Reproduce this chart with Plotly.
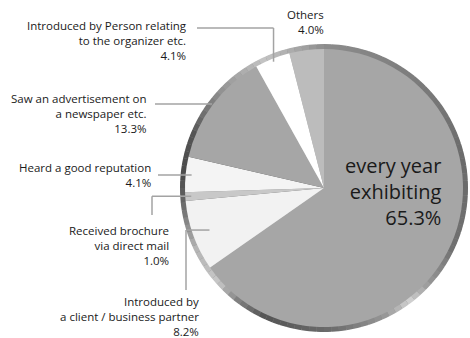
import math
import plotly.graph_objects as go

# slices, clockwise from 12 o'clock
labels = [
    "every year exhibiting",
    "Introduced by a client / business partner",
    "Received brochure via direct mail",
    "Heard a good reputation",
    "Saw an advertisement on a newspaper etc.",
    "Introduced by Person relating to the organizer etc.",
    "Others",
]
shares = [65.3, 8.2, 1.0, 4.1, 13.3, 4.1, 4.0]
slice_colors = ["#a6a6a6", "#f2f2f2", "#c8c8c8", "#f4f4f4", "#a6a6a6", "#ffffff", "#bcbcbc"]

# text shown next to the pie (line breaks as in the original)
label_text = [
    "every year<br>exhibiting<br>65.3%",
    "Introduced by<br>a client / business partner<br>8.2%",
    "Received brochure<br>via direct mail<br>1.0%",
    "Heard a good reputation<br>4.1%",
    "Saw an advertisement on<br>a newspaper etc.<br>13.3%",
    "Introduced by Person relating<br>to the organizer etc.<br>4.1%",
    "Others<br>4.0%",
]

# metallic rim: grey level stops (angle clockwise from top, grey 0-255)
rim_stops = [(0, 140), (40, 124), (80, 106), (115, 112), (132, 150), (143, 210),
             (155, 150), (175, 110), (205, 84), (218, 130), (228, 200), (245, 180),
             (262, 110), (275, 74), (292, 84), (315, 150), (335, 196), (352, 160), (360, 140)]
N_RIM = 120

W, H = 470, 338
CX, CY = 324, 188      # pie centre in pixels
R_OUT, R_IN = 144, 139


def px(x):
    return x / W


def py(y):
    return 1 - y / H


def dom(r):
    return dict(x=[px(CX - r), px(CX + r)], y=[py(CY + r), py(CY - r)])


def rim_grey(a):
    for (a0, g0), (a1, g1) in zip(rim_stops[:-1], rim_stops[1:]):
        if a0 <= a <= a1:
            g = round(g0 + (g1 - g0) * (a - a0) / (a1 - a0))
            return f"rgb({g},{g},{g})"
    return "rgb(140,140,140)"


rim_colors = [rim_grey((k + 0.5) * 360 / N_RIM) for k in range(N_RIM)]

fig = go.Figure()
# solid backing so the rim segments show no seams
fig.add_trace(go.Pie(values=[1], marker=dict(colors=["#8c8c8c"], line=dict(width=0)),
                     textinfo="none", hoverinfo="skip", domain=dom(R_OUT - 0.5), showlegend=False))
fig.add_trace(go.Pie(values=[1] * N_RIM, marker=dict(colors=rim_colors, line=dict(width=0)),
                     sort=False, direction="clockwise", textinfo="none", hoverinfo="skip",
                     domain=dom(R_OUT), showlegend=False))
fig.add_trace(go.Pie(labels=labels, values=shares, marker=dict(colors=slice_colors, line=dict(width=0)),
                     sort=False, direction="clockwise", textinfo="none",
                     domain=dom(R_IN), showlegend=False))

# mid angle of each slice (degrees clockwise from top)
total = sum(shares)
mids = []
acc = 0
for s in shares:
    mids.append((acc + s / 2) / total * 360)
    acc += s


def on_pie(i, r):
    a = math.radians(mids[i])
    return CX + r * math.sin(a), CY - r * math.cos(a)


# label placement: (right edge x, top y) in pixels
placements = {
    0: (444, 150),
    1: (201, 292),
    2: (171, 221),
    3: (153, 158),
    4: (149, 89),
    5: (189, 16),
    6: (326, 5),
}
# leader lines: radius of anchor inside the slice, then elbow points
leaders = {
    1: (122, [(186, None), (186, 290)]),
    2: (133, [(152, None), (152, 215)]),
    3: (133, [(158, None)]),
    4: (140, [(155, None)]),
    5: (136, [(None, 28), (197, 28)]),
}

lc = "#a3a3a3"
for i, (r, pts) in leaders.items():
    x0, y0 = on_pie(i, r)
    path = [(x0, y0)]
    for (x, y) in pts:
        if y is None:
            y = path[-1][1]
        if x is None:
            x = path[-1][0]
        path.append((x, y))
    for (a, b) in zip(path[:-1], path[1:]):
        fig.add_shape(type="line", xref="paper", yref="paper",
                      x0=px(a[0]), y0=py(a[1]), x1=px(b[0]), y1=py(b[1]),
                      line=dict(color=lc, width=1.5))

for i, (x, y) in placements.items():
    big = i == 0
    fig.add_annotation(text=label_text[i], xref="paper", yref="paper",
                       x=px(x), y=py(y), xanchor="right", yanchor="top", align="right",
                       showarrow=False,
                       font=dict(family="Open Sans", size=20 if big else 11.5, color="#1a1a1a"))

fig.update_layout(width=W, height=H, margin=dict(l=0, r=0, t=0, b=0),
                  paper_bgcolor="white", plot_bgcolor="white")
fig.write_html("out.html", config={"displayModeBar": False},
               post_script="document.body.style.margin='0';")
